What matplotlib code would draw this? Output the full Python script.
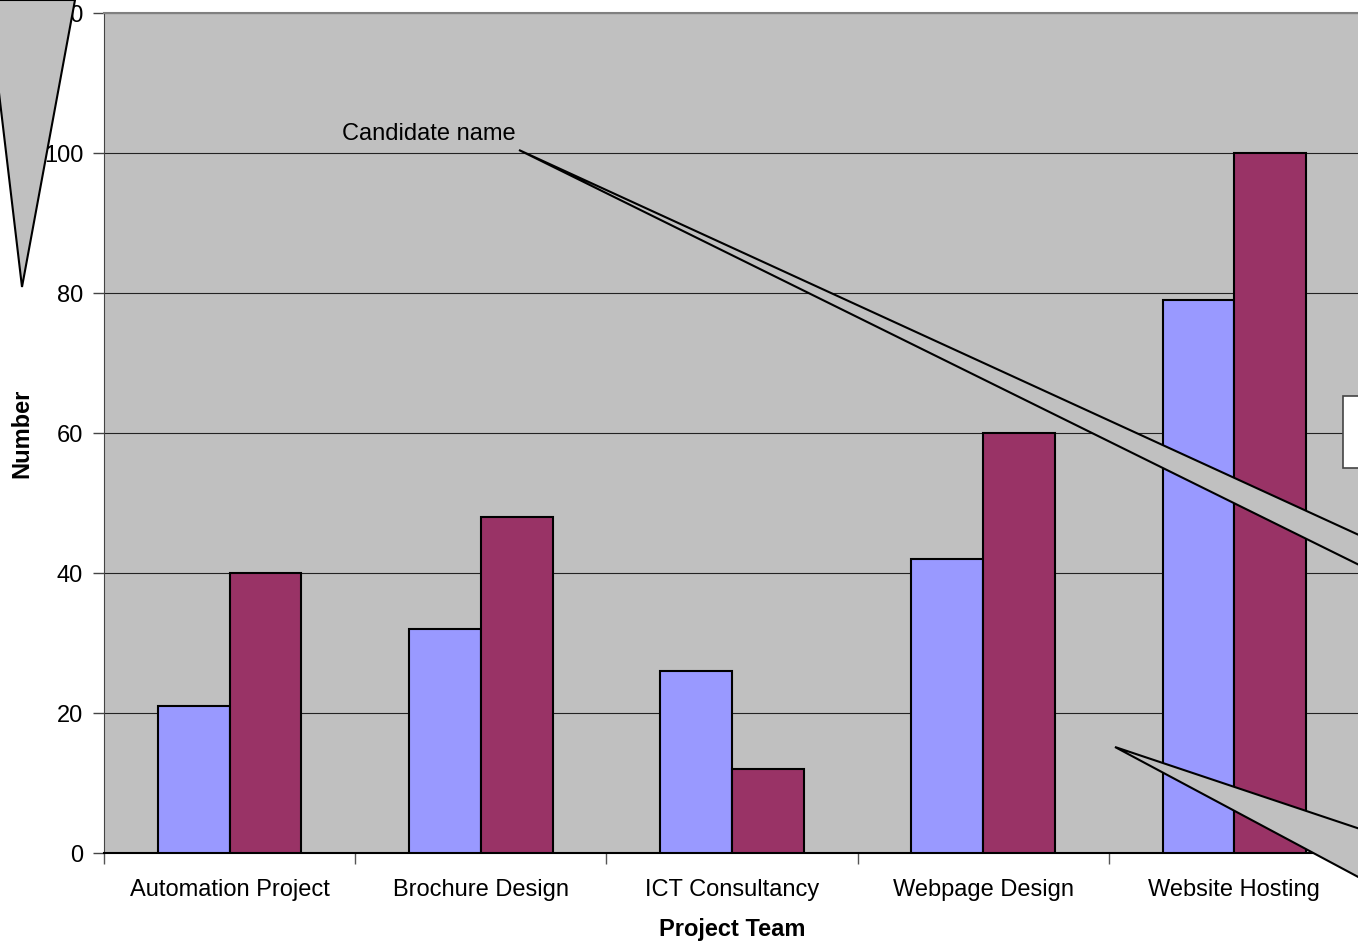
import numpy as np
import matplotlib.pyplot as plt
from matplotlib.patches import Polygon, Rectangle

plt.rcParams['font.family'] = ['Liberation Sans', 'DejaVu Sans']

# data
teams = ['Automation Project', 'Brochure Design', 'ICT Consultancy',
         'Webpage Design', 'Website Hosting']
series_a = [21, 32, 26, 42, 79]
series_b = [40, 48, 12, 60, 100]
y_ticks = [0, 20, 40, 60, 80, 100, 120]

W, H = 1358, 943
FS = 17
fig = plt.figure(figsize=(W / 100, H / 100), dpi=100)
ax = fig.add_axes([104 / W, 90 / H, 1256 / W, 840 / H])
ax.set_facecolor('#C0C0C0')

x = np.arange(len(teams))
bw = 0.286
ax.bar(x - bw / 2, series_a, bw, color='#9999FF', edgecolor='black', linewidth=1.5, zorder=3)
ax.bar(x + bw / 2, series_b, bw, color='#993366', edgecolor='black', linewidth=1.5, zorder=3)

ax.set_xlim(-0.5, len(teams) - 0.5)
ax.set_ylim(0, 120)
ax.set_yticks(y_ticks)
ax.set_yticklabels([str(v) for v in y_ticks])
ax.yaxis.grid(True, color='#222222', linewidth=0.8, zorder=1)

ax.set_xticks(x)
ax.set_xticklabels(teams)
ax.set_xticks(np.arange(len(teams) + 1) - 0.5, minor=True)
ax.tick_params(axis='x', which='major', length=0, pad=18.5, labelsize=FS)
ax.tick_params(axis='x', which='minor', length=8, width=1, color='#555555')
ax.tick_params(axis='y', length=8, width=1, pad=7, labelsize=FS, color='#444444')

ax.spines['right'].set_visible(False)
ax.spines['top'].set_color('#808080')
ax.spines['top'].set_linewidth(1.5)
ax.spines['left'].set_color('#444444')
ax.spines['bottom'].set_color('black')
ax.spines['bottom'].set_linewidth(1.5)

ax.set_xlabel('Project Team', fontsize=FS, fontweight='bold')
ax.set_ylabel('Number', fontsize=FS, fontweight='bold')
ax.xaxis.set_label_coords(0.5, -0.0915)
ax.yaxis.set_label_coords(-0.0655, 0.5)
ax.xaxis.label.set_va('center')
ax.yaxis.label.set_va('center')

# overlay in pixel space for callouts
ov = fig.add_axes([0, 0, 1, 1], zorder=5)
ov.set_xlim(0, W)
ov.set_ylim(H, 0)
ov.axis('off')
ov.patch.set_alpha(0)

ov.add_patch(Polygon([(-12, 0), (22, 287), (75, 0)], closed=True,
                     facecolor='#C0C0C0', edgecolor='black', linewidth=1.5))
ov.add_patch(Polygon([(519, 150), (1420, 563), (1420, 595)], closed=True,
                     facecolor='#C0C0C0', edgecolor='black', linewidth=1.5))
ov.add_patch(Polygon([(1115, 747), (1420, 849), (1420, 910)], closed=True,
                     facecolor='#C0C0C0', edgecolor='black', linewidth=1.5))
ov.text(342, 140, 'Candidate name', fontsize=FS, ha='left', va='baseline')
ov.add_patch(Rectangle((1343, 396), 40, 72, facecolor='white',
                       edgecolor='#444444', linewidth=1.2))

fig.savefig('out.png', dpi=100)
